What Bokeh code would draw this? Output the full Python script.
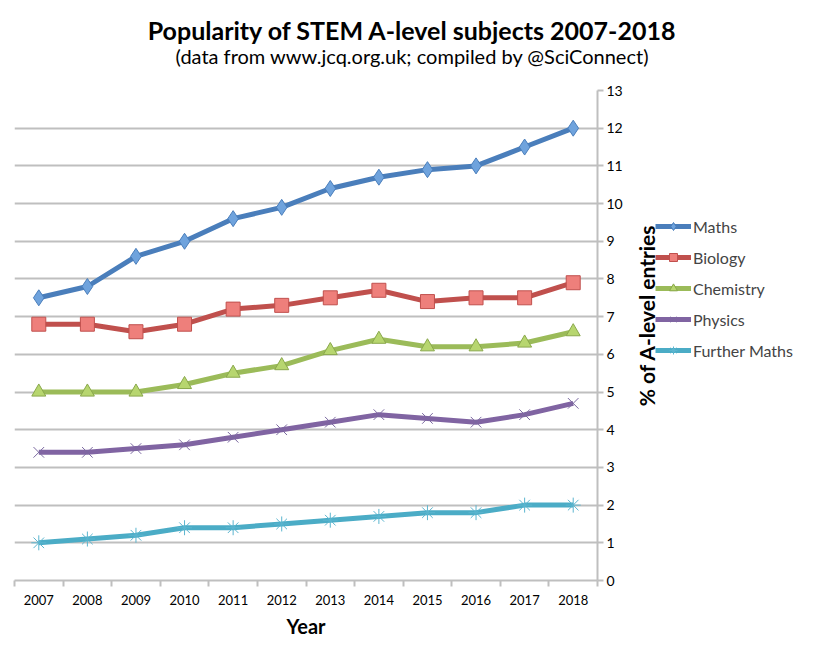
import math

from bokeh.embed import file_html
from bokeh.layouts import column, row
from bokeh.models import (FixedTicker, Label, Legend, LegendItem, Range1d)
from bokeh.plotting import figure
from bokeh.resources import INLINE

years = list(range(2007, 2019))
maths = [7.5, 7.8, 8.6, 9.0, 9.6, 9.9, 10.4, 10.7, 10.9, 11.0, 11.5, 12.0]
biology = [6.8, 6.8, 6.6, 6.8, 7.2, 7.3, 7.5, 7.7, 7.4, 7.5, 7.5, 7.9]
chemistry = [5.0, 5.0, 5.0, 5.2, 5.5, 5.7, 6.1, 6.4, 6.2, 6.2, 6.3, 6.6]
physics = [3.4, 3.4, 3.5, 3.6, 3.8, 4.0, 4.2, 4.4, 4.3, 4.2, 4.4, 4.7]
further_maths = [1.0, 1.1, 1.2, 1.4, 1.4, 1.5, 1.6, 1.7, 1.8, 1.8, 2.0, 2.0]
y_ticks = list(range(0, 14))

FONT = "Lato"
GRID = "#bfbfbf"
W = 805
TOP_H = 82
H = 640 - TOP_H
W_MAIN = 627
W_SIDE = W - W_MAIN


def blank(width, height):
    f = figure(width=width, height=height,
               x_range=Range1d(0, width), y_range=Range1d(0, height),
               output_backend="svg", toolbar_location=None,
               min_border=0, outline_line_color=None)
    f.axis.visible = False
    f.grid.visible = False
    return f


# title strip
top = blank(W, TOP_H)
top.add_layout(Label(x=412, y=53, text="Popularity of STEM A-level subjects 2007-2018",
                     text_font=FONT, text_font_size="25px", text_font_style="bold",
                     text_align="center", text_baseline="middle", text_color="black"))
top.add_layout(Label(x=412, y=27, text="(data from www.jcq.org.uk; compiled by @SciConnect)",
                     text_font=FONT, text_font_size="20px",
                     text_align="center", text_baseline="middle", text_color="black"))

p = figure(
    width=W_MAIN, height=H, title=None,
    x_range=Range1d(years[0] - 0.5, years[-1] + 0.5),
    y_range=Range1d(0, 13),
    y_axis_location="right",
    output_backend="svg",
    toolbar_location=None,
    min_border_left=14, min_border_right=W_MAIN - 597,
    min_border_top=8, min_border_bottom=60,
)
p.outline_line_color = None

p.xgrid.visible = False
p.ygrid.grid_line_color = GRID
p.ygrid.grid_line_width = 2
p.ygrid.ticker = FixedTicker(ticks=y_ticks)

xa = p.xaxis[0]
xa.ticker = FixedTicker(ticks=years, minor_ticks=[y + 0.5 for y in [years[0] - 1] + years])
xa.axis_line_color = GRID
xa.axis_line_width = 2
xa.major_tick_line_color = None
xa.minor_tick_line_color = GRID
xa.minor_tick_line_width = 2
xa.minor_tick_in = 0
xa.minor_tick_out = 6
xa.major_label_text_font = FONT
xa.major_label_text_font_size = "13px"
xa.major_label_text_color = "black"
xa.major_label_standoff = 8
xa.axis_label = "Year"
xa.axis_label_text_font = FONT
xa.axis_label_text_font_size = "20px"
xa.axis_label_text_font_style = "bold"
xa.axis_label_text_color = "black"
xa.axis_label_standoff = 6

ya = p.yaxis[0]
ya.ticker = FixedTicker(ticks=y_ticks)
ya.axis_line_color = GRID
ya.axis_line_width = 2
ya.major_tick_line_color = GRID
ya.major_tick_line_width = 2
ya.major_tick_in = 0
ya.major_tick_out = 6
ya.minor_tick_line_color = None
ya.major_label_text_font = FONT
ya.major_label_text_font_size = "14px"
ya.major_label_text_color = "black"
ya.major_label_standoff = 3

series = [
    ("Maths", maths, "#4a7ebb", "diamond", "#6fa3dd", "#4a7ebb", 16),
    ("Biology", biology, "#c0504d", "square", "#ee7f7b", "#c0504d", 14),
    ("Chemistry", chemistry, "#9bbb59", "triangle", "#b7d66f", "#8aa84c", 14),
    ("Physics", physics, "#8064a2", "x", None, "#7a68a0", 15),
    ("Further Maths", further_maths, "#4bacc6", "asterisk", None, "#5bb5cf", 15),
]

# side strip: y axis title and the legend (its copies of the series sit off-range)
q = blank(W_SIDE, H)
q.add_layout(Label(x=19, y=302, text="% of A-level entries", angle=math.pi / 2,
                   text_font=FONT, text_font_size="21px", text_font_style="bold",
                   text_align="center", text_baseline="middle", text_color="black"))

items = []
for name, vals, color, marker, fill, mline, size in series:
    p.line(years, vals, line_color=color, line_width=5)
    p.scatter(years, vals, marker=marker, size=size,
              fill_color=fill, line_color=mline, line_width=1)
    line = q.line(years, vals, line_color=color, line_width=5)
    pts = q.scatter(years, vals, marker=marker, size=size,
                    fill_color=fill, line_color=mline, line_width=1)
    items.append(LegendItem(label=name, renderers=[line, pts]))

legend = Legend(items=items, location=(28, 220),
                label_text_font=FONT, label_text_font_size="16px",
                glyph_width=36, glyph_height=20, spacing=11,
                label_standoff=2, padding=0, margin=0,
                border_line_color=None, background_fill_alpha=0)
q.add_layout(legend, "center")

layout = column(top, row(p, q))
open("out.html", "w").write(file_html(layout, INLINE))
